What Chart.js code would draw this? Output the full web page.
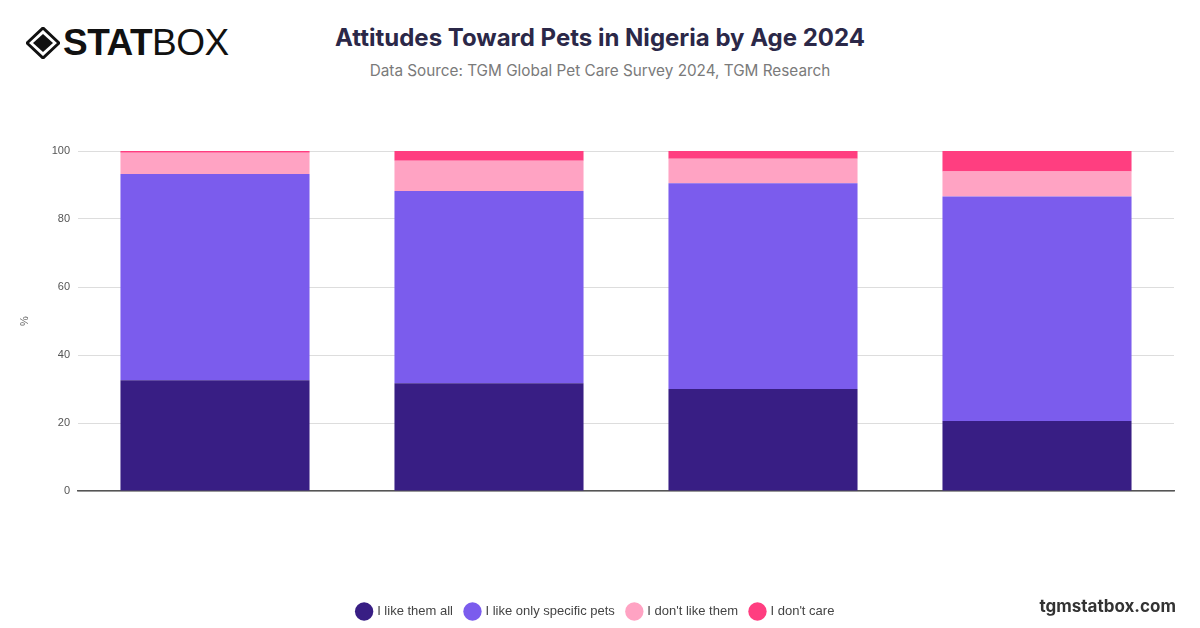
<!DOCTYPE html>
<html>
<head>
<meta charset="utf-8">
<script src="https://cdn.jsdelivr.net/npm/chart.js@4"></script>
<style>
  body { margin: 0; width: 1200px; height: 628px; background: #fff; position: relative; overflow: hidden; font-family: Inter, "Liberation Sans", Arial, sans-serif; }
  #logo { position: absolute; left: 26px; top: 22px; display: flex; align-items: center; }
  #logo svg { margin-right: 3px; }
  #logo .stat { font-family: "Liberation Sans", Arial, sans-serif; font-weight: 900; font-size: 37px; color: #111; letter-spacing: -0.5px; }
  #logo .box { font-family: "Liberation Sans", Arial, sans-serif; font-weight: 400; font-size: 37px; color: #111; letter-spacing: -0.5px; }
  #title { position: absolute; left: 0; width: 1200px; top: 23px; text-align: center; font-size: 24px; font-weight: 700; color: #2b2848; }
  #subtitle { position: absolute; left: 0; width: 1200px; top: 61px; text-align: center; font-size: 15.3px; color: #7a7a7a; }
  #site { position: absolute; right: 24px; top: 596px; font-size: 17px; font-weight: 700; color: #333; }
  #wrap { position: absolute; left: 0; top: 130px; width: 1200px; height: 498px; }
</style>
</head>
<body>
<div id="logo">
  <svg width="34" height="32" viewBox="0 0 34 32">
    <path d="M17 1 L33 16 L17 31 L1 16 Z" fill="none" stroke="#111" stroke-width="3"/>
    <path d="M17 7 L27 16 L17 25 L7 16 Z" fill="#111"/>
  </svg>
  <span class="stat">STAT</span><span class="box">BOX</span>
</div>
<div id="title">Attitudes Toward Pets in Nigeria by Age 2024</div>
<div id="subtitle">Data Source: TGM Global Pet Care Survey 2024, TGM Research</div>
<div id="wrap"><canvas id="chart"></canvas></div>
<div id="site">tgmstatbox.com</div>

<script>
// Age groups (not shown on the original axis)
const ageGroups = ['16-24', '25-34', '35-44', '45+'];

const likeAll = [32.6, 31.7, 30.0, 20.6];
const likeSpecific = [60.6, 56.5, 60.5, 66.0];
const dontLike = [6.3, 8.9, 7.2, 7.4];
const dontCare = [0.5, 2.9, 2.3, 6.0];

const yTicks = [0, 20, 40, 60, 80, 100];

const seriesNames = ['I like them all', 'I like only specific pets', "I don't like them", "I don't care"];
const seriesColors = ['#381e84', '#7b5ced', '#ffa3c3', '#ff3e80'];

const seriesValues = [likeAll, likeSpecific, dontLike, dontCare];

const datasets = seriesValues.map((vals, i) => ({
    label: seriesNames[i],
    data: vals,
    backgroundColor: seriesColors[i],
    borderWidth: 0,
    barPercentage: 0.69,
    categoryPercentage: 1.0
}));

new Chart(document.getElementById('chart').getContext('2d'), {
    type: 'bar',
    data: { labels: ageGroups, datasets: datasets },
    options: {
        responsive: true,
        maintainAspectRatio: false,
        animation: false,
        layout: { padding: { left: 18, right: 26, top: 21, bottom: 0 } },
        scales: {
            x: {
                stacked: true,
                grid: { display: false },
                ticks: { display: false },
                border: { display: true, color: '#555', width: 1.5 },
                afterFit: (scale) => { scale.height = 101; }
            },
            y: {
                stacked: true,
                min: 0,
                max: 100,
                afterBuildTicks: (scale) => { scale.ticks = yTicks.map(v => ({ value: v })); },
                ticks: { color: '#555', font: { size: 11, family: 'Liberation Sans, Arial, sans-serif' }, padding: 8 },
                grid: { color: '#dddddd', drawTicks: false },
                border: { display: false },
                title: { display: true, text: '%', color: '#666', font: { size: 11 }, padding: { top: 0, bottom: 0 } },
                afterFit: (scale) => { scale.width = 60; }
            }
        },
        plugins: {
            legend: {
                position: 'bottom',
                labels: {
                    usePointStyle: true,
                    pointStyle: 'circle',
                    color: '#444',
                    font: { size: 13, family: 'Liberation Sans, Arial, sans-serif' },
                    padding: 13
                }
            },
            tooltip: { enabled: true }
        }
    }
});
</script>
</body>
</html>
